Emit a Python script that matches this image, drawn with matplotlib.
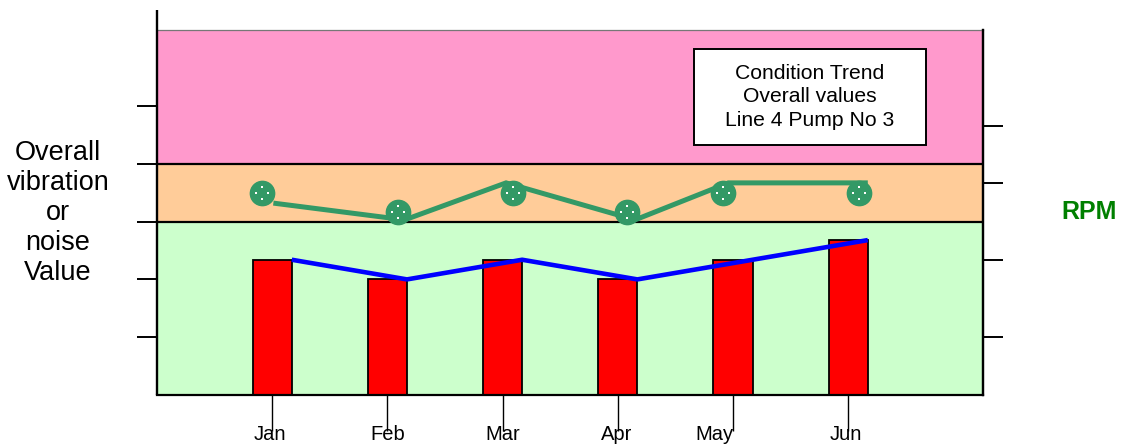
import numpy as np
import matplotlib
matplotlib.use("Agg")
import matplotlib.pyplot as plt
from matplotlib.path import Path
from matplotlib.patches import Rectangle

plt.rcParams['font.family'] = ['Liberation Sans', 'DejaVu Sans']

# ---- data ----
months = ["Jan", "Feb", "Mar", "Apr", "May", "Jun"]
overall_values = [2.34, 2.0, 2.34, 2.0, 2.34, 2.68]          # bars + blue trend
rpm_points = [3.49, 3.17, 3.50, 3.17, 3.49, 3.49]             # round markers
rpm_trace = [3.32, 3.03, 3.67, 3.03, 3.67, 3.67]              # green trace
band_limits = [0, 3, 4]                                       # alarm bands: ok / alert / danger
left_ticks = [1, 2, 3, 4, 5]
right_ticks = [1.0, 2.34, 3.67, 4.65]
title_lines = ["Condition Trend", "Overall values", "Line 4 Pump No 3"]

# ---- layout / style ----
W, H = 1125, 446
fig = plt.figure(figsize=(W / 100, H / 100), dpi=100)
L, R, B, T = 157, 983, 395, 30
ax = fig.add_axes([L / W, 1 - B / H, (R - L) / W, (B - T) / H])

YTOP = 6.315
XMIN, XMAX = -1.0, 6.17
ax.set_xlim(XMIN, XMAX)
ax.set_ylim(0, YTOP)

x = np.arange(len(months))
bar_w = 0.34

# background bands
green_c, orange_c, pink_c = "#CCFFCC", "#FFCC99", "#FF99CC"
ax.axhspan(band_limits[0], band_limits[1], color=green_c, zorder=0, lw=0)
ax.axhspan(band_limits[1], band_limits[2], color=orange_c, zorder=0, lw=0)
ax.axhspan(band_limits[2], YTOP, color=pink_c, zorder=0, lw=0)
for lim in band_limits[1:]:
    ax.axhline(lim, color="black", lw=1.6, zorder=1)

# bars
ax.bar(x, overall_values, width=bar_w, color="#FF0000", edgecolor="black",
       linewidth=1.3, zorder=2)

# blue trend through the bar tops (right-hand corners)
ax.plot(x + bar_w / 2, overall_values, color="#0000FF", lw=3.3, zorder=3,
        solid_capstyle="butt")

# green RPM trace and markers
sea_green = "#339966"
trace_dx = [0.01, 0.15, 0.03, 0.15, -0.04, 0.17]
point_dx = [-0.09, 0.09, 0.09, 0.08, -0.09, 0.09]
ax.plot(x + np.array(trace_dx), rpm_trace, color=sea_green, lw=3.6, zorder=4,
        solid_capstyle="butt", solid_joinstyle="miter")
ax.plot(x + np.array(point_dx), rpm_points, "o", ms=17.5, color=sea_green,
        mec=sea_green, zorder=5)

# four little white dots inside each marker
def dots_path():
    s = 0.085
    verts, codes = [], []
    for cx, cy in [(0, 0.5), (0, -0.5), (0.5, 0), (-0.5, 0)]:
        verts += [(cx - s, cy - s), (cx + s, cy - s), (cx + s, cy + s),
                  (cx - s, cy + s), (cx - s, cy - s)]
        codes += [Path.MOVETO, Path.LINETO, Path.LINETO, Path.LINETO, Path.CLOSEPOLY]
    return Path(verts, codes)

ax.plot(x + np.array(point_dx), rpm_points, ls="none", marker=dots_path(),
        ms=10.5, color="white", mec="white", mew=0, zorder=6)

# spines
for side in ["left", "top"]:
    ax.spines[side].set_visible(False)
ax.spines["bottom"].set_linewidth(1.6)
ax.spines["right"].set_linewidth(1.6)
ax.axhline(YTOP, color="#777777", lw=0.9, zorder=7, clip_on=False)
# left axis line extends above the plot area
ax.plot([XMIN, XMIN], [0, YTOP + 20 / 57.8], color="black", lw=1.7,
        clip_on=False, zorder=8, solid_capstyle="butt")

# ticks
ax.set_yticks(left_ticks)
ax.tick_params(axis="y", which="both", direction="out", length=14.4,
               width=1.4, labelleft=False, left=True, right=False)
ax.set_xticks(x)
ax.tick_params(axis="x", direction="out", length=26, width=1.0,
               labelbottom=False)

axr = ax.twinx()
axr.set_ylim(0, YTOP)
axr.set_yticks(right_ticks)
axr.tick_params(axis="y", direction="out", length=14.4, width=1.4,
                labelright=False)
for side in ["left", "top", "bottom"]:
    axr.spines[side].set_visible(False)
axr.spines["right"].set_linewidth(1.6)

# month labels
label_dx = [-0.02, 0.0, 0.0, -0.01, -0.16, -0.02]
for xi, dx, m in zip(x, label_dx, months):
    ax.text(xi + dx, (B - 435) / (B - T), m, transform=ax.get_xaxis_transform(),
            ha="center", va="center", fontsize=14.5)

# axis titles
fig.text(58 / W, 1 - 213 / H, "Overall\nvibration\nor\nnoise\nValue",
         ha="center", va="center", fontsize=19.5, linespacing=1.2)
fig.text(1089 / W, 1 - 212 / H, "RPM", ha="center", va="center",
         fontsize=18, fontweight="bold", color="#008000")

# title box
bx0, by0, bx1, by1 = 694, 49, 926, 145
fig.patches.append(Rectangle((bx0 / W, 1 - by1 / H), (bx1 - bx0) / W,
                             (by1 - by0) / H, transform=fig.transFigure,
                             facecolor="white", edgecolor="black", lw=1.4,
                             zorder=10))
fig.text((bx0 + bx1) / 2 / W, 1 - (by0 + by1) / 2 / H, "\n".join(title_lines),
         ha="center", va="center", fontsize=15.2, linespacing=1.32, zorder=11)

fig.savefig("out.png", dpi=100)
